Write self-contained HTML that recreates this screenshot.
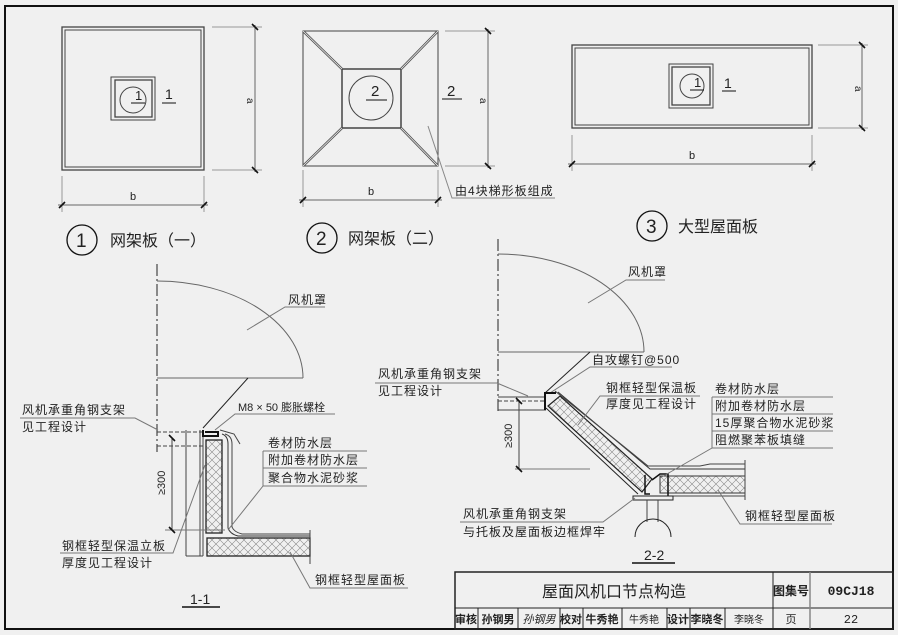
<!DOCTYPE html>
<html><head><meta charset="utf-8"><style>
html,body{margin:0;padding:0;background:#f0f0f0;}
svg{display:block;}
text{font-family:"Liberation Sans","Noto Sans CJK SC",sans-serif;fill:#222;}
.t{font-size:12px;letter-spacing:1px;}
.m{font-family:"Liberation Mono","Noto Sans CJK SC",monospace;}
</style></head><body>
<svg width="898" height="635" viewBox="0 0 898 635" xmlns="http://www.w3.org/2000/svg">
<defs>
<pattern id="xh" width="8" height="8" patternUnits="userSpaceOnUse">
<path d="M0 0L8 8M8 0L0 8" stroke="#888" stroke-width="0.6"/>
</pattern>
</defs>
<rect x="0" y="0" width="898" height="635" fill="#f0f0f0"/>
<rect x="5" y="6" width="888" height="623" fill="none" stroke="#111" stroke-width="2"/>

<g fill="none" stroke="#444" stroke-width="1">
<rect x="62" y="27" width="142" height="143" stroke-width="1.3"/>
<rect x="65" y="30" width="136" height="137"/>
<rect x="111" y="77" width="44" height="43"/>
<rect x="115" y="80" width="37" height="37" stroke-width="1.3"/>
<circle cx="133" cy="100" r="13"/>
<line x1="131" y1="103" x2="145" y2="103" stroke="#111"/>
<line x1="162" y1="103" x2="176" y2="103" stroke="#111"/>
<line x1="212" y1="27" x2="262" y2="27" stroke="#999"/>
<line x1="212" y1="170" x2="262" y2="170" stroke="#999"/>
<line x1="255" y1="25" x2="255" y2="172" stroke="#666"/>
<line x1="62" y1="176" x2="62" y2="212" stroke="#999"/>
<line x1="204" y1="176" x2="204" y2="212" stroke="#999"/>
<line x1="58" y1="205" x2="208" y2="205" stroke="#666"/>
<rect x="303" y="31" width="135" height="135"/>
<rect x="342" y="69" width="59" height="59" stroke-width="1.5"/>
<path d="M303 31L342 69M438 31L401 69M303 166L342 128M438 166L401 128" stroke-width="2.5" stroke="#555"/>
<path d="M303 31L342 69M438 31L401 69M303 166L342 128M438 166L401 128" stroke-width="0.8" stroke="#f0f0f0"/>
<circle cx="371" cy="98" r="22"/>
<line x1="366" y1="100" x2="387" y2="100" stroke="#111"/>
<line x1="442" y1="99" x2="462" y2="99" stroke="#111"/>
<line x1="445" y1="31" x2="495" y2="31" stroke="#999"/>
<line x1="445" y1="166" x2="495" y2="166" stroke="#999"/>
<line x1="488" y1="29" x2="488" y2="168" stroke="#666"/>
<line x1="303" y1="170" x2="303" y2="207" stroke="#999"/>
<line x1="438" y1="170" x2="438" y2="207" stroke="#999"/>
<line x1="299" y1="200" x2="442" y2="200" stroke="#666"/>
<polyline points="428,126 452,198 555,198" stroke="#888"/>
<rect x="572" y="45" width="240" height="83" stroke-width="1.3"/>
<rect x="575" y="48" width="234" height="77"/>
<rect x="669" y="64" width="44" height="44"/>
<rect x="672" y="67" width="38" height="38" stroke-width="1.3"/>
<circle cx="692" cy="86" r="12"/>
<line x1="690" y1="90" x2="704" y2="90" stroke="#111"/>
<line x1="722" y1="91" x2="736" y2="91" stroke="#111"/>
<line x1="818" y1="45" x2="868" y2="45" stroke="#999"/>
<line x1="818" y1="128" x2="868" y2="128" stroke="#999"/>
<line x1="862" y1="43" x2="862" y2="130" stroke="#666"/>
<line x1="572" y1="135" x2="572" y2="171" stroke="#999"/>
<line x1="812" y1="135" x2="812" y2="171" stroke="#999"/>
<line x1="568" y1="164" x2="816" y2="164" stroke="#666"/>
<g stroke="#111" stroke-width="1.6">
<path d="M252 24L258 30M252 167L258 173M59 208L65 202M201 208L207 202"/>
<path d="M485 28L491 34M485 163L491 169M300 203L306 197M435 203L441 197"/>
<path d="M859 42L865 48M859 125L865 131M569 167L575 161M809 167L815 161"/>
</g>
<circle cx="82" cy="240" r="15" stroke="#111" stroke-width="1.3"/>
<circle cx="322" cy="238" r="15" stroke="#111" stroke-width="1.3"/>
<circle cx="652" cy="226" r="15" stroke="#111" stroke-width="1.3"/>
</g>
<text x="135" y="100" font-size="13">1</text>
<text x="165" y="99" font-size="14">1</text>
<text x="371" y="96" font-size="15">2</text>
<text x="447" y="96" font-size="15">2</text>
<text x="694" y="87" font-size="13">1</text>
<text x="724" y="88" font-size="14">1</text>
<text x="247" y="98" font-size="10" fill="#555" transform="rotate(90 247 98)">a</text>
<text x="480" y="98" font-size="10" fill="#555" transform="rotate(90 480 98)">a</text>
<text x="855" y="86" font-size="10" fill="#555" transform="rotate(90 855 86)">a</text>
<text x="130" y="200" font-size="11" fill="#555">b</text>
<text x="368" y="195" font-size="11" fill="#555">b</text>
<text x="689" y="159" font-size="11" fill="#555">b</text>
<text x="455" y="195" class="t" font-size="11">由4块梯形板组成</text>
<text x="76" y="247" font-size="19">1</text>
<text x="316" y="245" font-size="19">2</text>
<text x="646" y="233" font-size="19">3</text>
<text x="110" y="246" font-size="16">网架板（一）</text>
<text x="348" y="244" font-size="16">网架板（二）</text>
<text x="678" y="232" font-size="16">大型屋面板</text>

<g fill="none" stroke="#444" stroke-width="1">
<line x1="157" y1="264" x2="157" y2="452" stroke="#222" stroke-dasharray="12,3,2,3"/>
<path d="M157 281A146 97 0 0 1 303 378" stroke="#666"/>
<line x1="157" y1="378" x2="303" y2="378" stroke="#666"/>
<polyline points="247,330 285,307 325,307" stroke="#777"/>
<line x1="248" y1="378" x2="203" y2="428" stroke="#222"/>
<polyline points="215,430 235,414 335,414" stroke="#777"/>
<polyline points="20,418 135,418 158,430" stroke="#777"/>
<line x1="157" y1="432" x2="205" y2="432" stroke-dasharray="4,2"/>
<line x1="157" y1="446" x2="205" y2="446" stroke-dasharray="4,2"/>
<line x1="186" y1="430" x2="186" y2="556"/>
<line x1="186" y1="556" x2="203" y2="556"/>
<line x1="200" y1="430" x2="200" y2="556"/>
<line x1="203" y1="430" x2="203" y2="556"/>
<path d="M203 430L203 436L218 436L218 432L205 432" stroke="#111" stroke-width="2"/>
<rect x="206" y="440" width="16" height="93" fill="url(#xh)" stroke="#222" stroke-width="1.3"/>
<path d="M222 434Q228 436 228 444L228 528Q230 534 238 536L310 536" stroke="#333"/>
<path d="M225 434Q232 436 232 444L232 527Q234 532 242 534L310 534"/>
<path d="M220 430L234 434L240 444"/>
<rect x="207" y="538" width="103" height="18" fill="url(#xh)" stroke="#222" stroke-width="1.3"/>
<line x1="310" y1="530" x2="310" y2="564"/>
<line x1="172" y1="438" x2="172" y2="530"/>
<line x1="165" y1="530" x2="225" y2="530" stroke="#777"/>
<path d="M169 435L175 441M169 527L175 533" stroke="#111" stroke-width="1.6"/>
<path d="M263 451L367 451M263 468L367 468M263 486L367 486M263 451L263 486L228 530" stroke="#777"/>
<polyline points="60,553 173,553 205,465" stroke="#777"/>
<polyline points="290,552 310,588 408,588" stroke="#777"/>
<line x1="182" y1="607" x2="220" y2="607" stroke="#111" stroke-width="1.5"/>
</g>
<text x="288" y="304" class="t">风机罩</text>
<text x="238" y="411" font-size="11">M8 × 50  膨胀螺栓</text>
<text x="22" y="414" class="t">风机承重角钢支架</text>
<text x="22" y="431" class="t">见工程设计</text>
<text x="268" y="447" class="t">卷材防水层</text>
<text x="268" y="464" class="t">附加卷材防水层</text>
<text x="268" y="482" class="t">聚合物水泥砂浆</text>
<text x="165" y="495" font-size="11" fill="#444" transform="rotate(-90 165 495)">≥300</text>
<text x="62" y="550" class="t">钢框轻型保温立板</text>
<text x="62" y="567" class="t">厚度见工程设计</text>
<text x="315" y="584" class="t">钢框轻型屋面板</text>
<text x="190" y="604" font-size="14">1-1</text>

<g fill="none" stroke="#444" stroke-width="1">
<line x1="498" y1="239" x2="498" y2="412" stroke="#222" stroke-dasharray="12,3,2,3"/>
<path d="M498 254A146 98 0 0 1 644 352" stroke="#666"/>
<line x1="498" y1="352" x2="644" y2="352" stroke="#666"/>
<polyline points="588,303 626,280 665,280" stroke="#777"/>
<line x1="590" y1="352" x2="545" y2="393" stroke="#222"/>
<polyline points="550,393 590,367 672,367" stroke="#777"/>
<polyline points="375,383 497,383 528,396" stroke="#777"/>
<line x1="498" y1="397" x2="546" y2="397"/>
<line x1="498" y1="401" x2="546" y2="401" stroke-dasharray="4,2"/>
<line x1="498" y1="410" x2="546" y2="410"/>
<path d="M545 410L545 393L556 393" stroke="#111" stroke-width="2"/>
<polygon points="548,406 560,396 652,479 642,492" fill="url(#xh)" stroke="#222" stroke-width="1.2"/>
<path d="M558 392L650 469L745 469" stroke="#333"/>
<path d="M555 391L648 466L700 466L710 464L745 464"/>
<line x1="546" y1="408" x2="638" y2="494" stroke="#222"/>
<rect x="660" y="476" width="85" height="17" fill="url(#xh)" stroke="#333"/>
<line x1="660" y1="496" x2="745" y2="496"/>
<line x1="745" y1="460" x2="745" y2="500"/>
<path d="M645 475L645 494L650 494M652 480L660 474L668 474L668 496" stroke="#111" stroke-width="1.5"/>
<rect x="633" y="496" width="40" height="4" stroke="#222"/>
<line x1="647" y1="500" x2="647" y2="522"/>
<line x1="658" y1="500" x2="658" y2="522"/>
<path d="M635 537A18 18 0 0 1 671 537" stroke="#222"/>
<line x1="519" y1="401" x2="519" y2="469"/>
<line x1="515" y1="469" x2="590" y2="469" stroke="#777"/>
<path d="M516 398L522 404M516 466L522 472" stroke="#111" stroke-width="1.6"/>
<polyline points="578,425 600,396 700,396" stroke="#777"/>
<path d="M712 397L833 397M712 414L833 414M712 431L833 431M712 448L833 448M712 397L712 448L660 478" stroke="#777"/>
<polyline points="635,498 603,522 460,522" stroke="#777"/>
<polyline points="718,490 740,524 832,524" stroke="#777"/>
<line x1="632" y1="563" x2="675" y2="563" stroke="#111" stroke-width="1.5"/>
</g>
<text x="628" y="276" class="t">风机罩</text>
<text x="592" y="364" font-size="12" letter-spacing="1">自攻螺钉@500</text>
<text x="378" y="378" class="t">风机承重角钢支架</text>
<text x="378" y="395" class="t">见工程设计</text>
<text x="606" y="392" class="t">钢框轻型保温板</text>
<text x="606" y="408" class="t">厚度见工程设计</text>
<text x="715" y="393" class="t">卷材防水层</text>
<text x="715" y="410" class="t">附加卷材防水层</text>
<text x="715" y="427" class="t">15厚聚合物水泥砂浆</text>
<text x="715" y="444" class="t">阻燃聚苯板填缝</text>
<text x="512" y="448" font-size="11" fill="#444" transform="rotate(-90 512 448)">≥300</text>
<text x="463" y="518" class="t">风机承重角钢支架</text>
<text x="463" y="536" class="t">与托板及屋面板边框焊牢</text>
<text x="745" y="520" class="t">钢框轻型屋面板</text>
<text x="644" y="560" font-size="14">2-2</text>

<g fill="none" stroke="#222" stroke-width="1">
<rect x="455" y="572" width="438" height="57" stroke-width="1.5"/>
<line x1="455" y1="608" x2="893" y2="608"/>
<line x1="773" y1="572" x2="773" y2="629"/>
<line x1="810" y1="572" x2="810" y2="629" stroke="#888" stroke-width="1.5"/>
<path d="M478 608V629M518 608V629M560 608V629M583 608V629M622 608V629M667 608V629M690 608V629M725 608V629"/>
</g>
<text x="614" y="597" font-size="16" text-anchor="middle">屋面风机口节点构造</text>
<text x="791" y="595" font-size="12" text-anchor="middle" font-weight="bold">图集号</text>
<text x="851" y="595" font-size="13" text-anchor="middle" class="m" font-weight="bold">09CJ18</text>
<g font-size="11" text-anchor="middle">
<text x="466" y="623" font-weight="bold">审核</text>
<text x="498" y="623" font-weight="bold">孙钢男</text>
<text x="539" y="623" fill="#666" font-style="italic">孙钢男</text>
<text x="571" y="623" font-weight="bold">校对</text>
<text x="602" y="623" font-weight="bold">牛秀艳</text>
<text x="644" y="623" fill="#888" font-size="10">牛秀艳</text>
<text x="678" y="623" font-weight="bold">设计</text>
<text x="707" y="623" font-weight="bold">李晓冬</text>
<text x="749" y="623" fill="#777" font-size="10">李晓冬</text>
<text x="791" y="623">页</text>
<text x="851" y="623" class="m" font-size="12">22</text>
</g>
</svg>
</body></html>
